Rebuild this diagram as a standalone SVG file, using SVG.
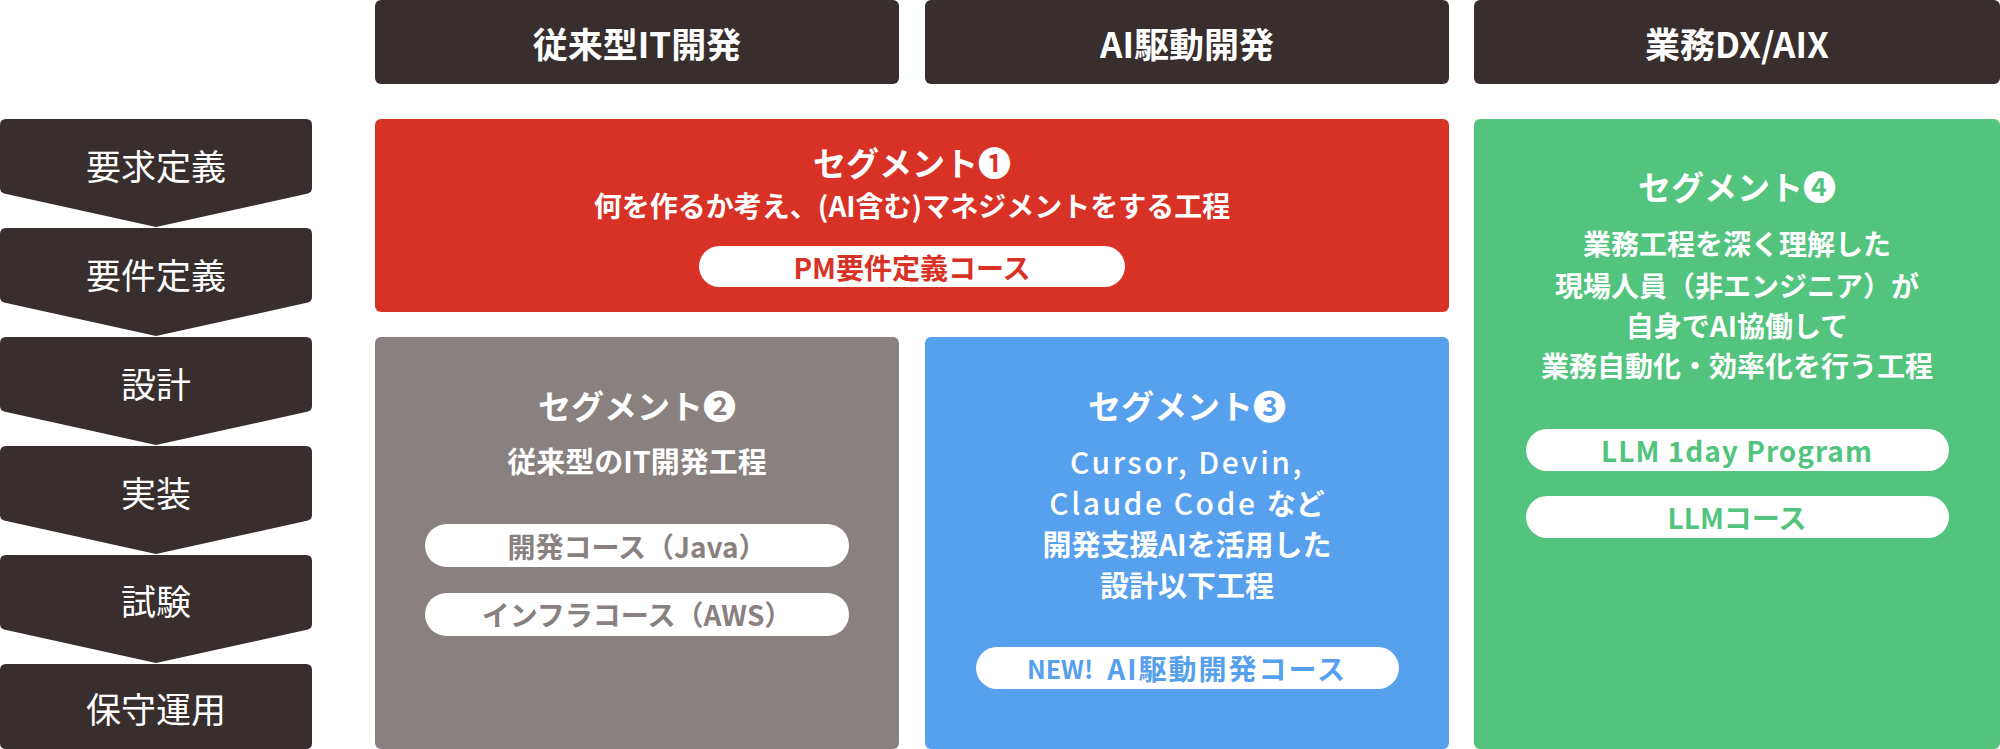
<svg xmlns="http://www.w3.org/2000/svg" width="2000" height="749" viewBox="0 0 2000 749">
<defs>
<style>
text{font-family:"Noto Sans CJK JP","Noto Sans",sans-serif;text-anchor:middle;dominant-baseline:central}
.hdr{fill:#382E2D}
.htx{fill:#fff;font-size:35px;font-weight:700}
.chev{fill:#382E2D}
.ctx{fill:#fff;font-size:35px;font-weight:400}
.ttl{fill:#fff;font-size:33px;font-weight:700}
.body{fill:#fff;font-size:28px;font-weight:700}
.body29{fill:#fff;font-size:29px;font-weight:700}
.lat{font-size:30px;letter-spacing:2.5px;font-weight:500}
.pill{fill:#fff}
.ptx{font-size:28px;font-weight:700}
</style>
</defs>
<rect width="2000" height="749" fill="#fff"/>
<g id="headers">
<g id="h-traditional"><rect class="hdr" x="375" y="0" width="524" height="84" rx="6"/><text class="htx" x="637" y="42">従来型IT開発</text></g>
<g id="h-aidriven"><rect class="hdr" x="925" y="0" width="524" height="84" rx="6"/><text class="htx" x="1187" y="42">AI駆動開発</text></g>
<g id="h-dx"><rect class="hdr" x="1474" y="0" width="526" height="84" rx="6"/><text class="htx" x="1737" y="42">業務DX/AIX</text></g>
</g>
<g id="phases">
<g id="p1"><path class="chev" d="M0,125 Q0,119 6,119 H306 Q312,119 312,125 V188 Q312,192 308,193.5 L156,227 L4,193.5 Q0,192 0,188 Z"/><text class="ctx" x="156" y="164">要求定義</text></g>
<g id="p2"><path class="chev" d="M0,234 Q0,228 6,228 H306 Q312,228 312,234 V297 Q312,301 308,302.5 L156,336 L4,302.5 Q0,301 0,297 Z"/><text class="ctx" x="156" y="273">要件定義</text></g>
<g id="p3"><path class="chev" d="M0,343 Q0,337 6,337 H306 Q312,337 312,343 V406 Q312,410 308,411.5 L156,445 L4,411.5 Q0,410 0,406 Z"/><text class="ctx" x="156" y="382">設計</text></g>
<g id="p4"><path class="chev" d="M0,452 Q0,446 6,446 H306 Q312,446 312,452 V515 Q312,519 308,520.5 L156,554 L4,520.5 Q0,519 0,515 Z"/><text class="ctx" x="156" y="491">実装</text></g>
<g id="p5"><path class="chev" d="M0,561 Q0,555 6,555 H306 Q312,555 312,561 V624 Q312,628 308,629.5 L156,663 L4,629.5 Q0,628 0,624 Z"/><text class="ctx" x="156" y="599">試験</text></g>
<g id="p6"><path class="chev" d="M0,670 Q0,664 6,664 H306 Q312,664 312,670 V743 Q312,749 306,749 H6 Q0,749 0,743 Z"/><text class="ctx" x="156" y="707">保守運用</text></g>
</g>
<g id="seg1">
<rect x="375" y="119" width="1074" height="193" rx="6" fill="#D83125"/>
<text class="ttl" x="912" y="162">セグメント❶</text>
<text class="body" x="912" y="205">何を作るか考え、(AI含む)マネジメントをする工程</text>
<rect class="pill" x="699" y="246" width="426" height="41" rx="20.5"/>
<text class="ptx" x="912" y="267" fill="#D83125" font-size="30">PM要件定義コース</text>
</g>
<g id="seg2">
<rect x="375" y="337" width="524" height="412" rx="6" fill="#88817F"/>
<text class="ttl" x="637" y="405">セグメント❷</text>
<text class="body29" x="637" y="460">従来型のIT開発工程</text>
<rect class="pill" x="425" y="524" width="424" height="43" rx="21.5"/>
<text class="ptx" x="637" y="546" fill="#88817F">開発コース（Java）</text>
<rect class="pill" x="425" y="593" width="424" height="43" rx="21.5"/>
<text class="ptx" x="637" y="614" fill="#88817F">インフラコース（AWS）</text>
</g>
<g id="seg3">
<rect x="925" y="337" width="524" height="412" rx="6" fill="#56A0EE"/>
<text class="ttl" x="1187" y="405">セグメント❸</text>
<text class="body29" x="1187" y="461"><tspan class="lat">Cursor, Devin,</tspan></text>
<text class="body29" x="1187" y="502"><tspan class="lat">Claude Code </tspan>など</text>
<text class="body29" x="1187" y="543">開発支援AIを活用した</text>
<text class="body29" x="1187" y="584">設計以下工程</text>
<rect class="pill" x="976" y="647" width="423" height="42" rx="21"/>
<text class="ptx" x="1187" y="668" fill="#56A0EE"><tspan font-size="25">NEW!</tspan><tspan dx="14" letter-spacing="2">AI駆動開発コース</tspan></text>
</g>
<g id="seg4">
<rect x="1474" y="119" width="526" height="630" rx="6" fill="#52C47D"/>
<text class="ttl" x="1737" y="186">セグメント❹</text>
<text class="body" x="1737" y="243">業務工程を深く理解した</text>
<text class="body" x="1737" y="285">現場人員（非エンジニア）が</text>
<text class="body" x="1737" y="325">自身でAI協働して</text>
<text class="body" x="1737" y="365">業務自動化・効率化を行う工程</text>
<rect class="pill" x="1526" y="429" width="423" height="42" rx="21"/>
<text class="ptx" x="1737" y="450" fill="#52C47D" font-size="32" letter-spacing="1">LLM 1day Program</text>
<rect class="pill" x="1526" y="496" width="423" height="42" rx="21"/>
<text class="ptx" x="1737" y="517" fill="#52C47D" font-size="30">LLMコース</text>
</g>
<g id="connectors"></g>
</svg>
